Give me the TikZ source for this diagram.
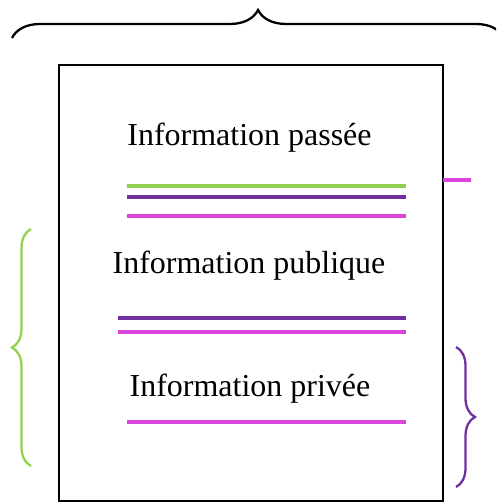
\documentclass[tikz,border=0pt]{standalone}
\usepackage{fontspec}
\setmainfont{Liberation Serif}
\usetikzlibrary{decorations.pathreplacing}
\definecolor{vert}{RGB}{146,208,80}
\definecolor{violet}{RGB}{112,48,160}
\definecolor{rose}{RGB}{218,68,218}
\tikzset{
  trait/.style={line width=2pt},
  accolade/.style={decorate,decoration={brace,amplitude=#1},line width=1.3pt},
  texte/.style={anchor=base,inner sep=0pt,font=\fontsize{18.2}{22}\selectfont}
}
\begin{document}
\begin{tikzpicture}[x=0.02cm,y=0.02cm]
				\useasboundingbox (0,0) rectangle (496,502);
				\clip (0,0) rectangle (496,502);

				% Accolade du haut
				\draw[accolade=0.56cm] (12,464) -- (504,464);

				% Cadre
				\draw[line width=1.3pt] (59,0.5) rectangle (443,437);

				% Information passee
				\node[texte] (passee) at (249.5,356) {Information passée};
				\draw[trait,vert] (127,316) -- (406,316);
				\draw[trait,violet] (127,305) -- (406,305);
				\draw[trait,rose] (127,286) -- (406,286);
				\draw[trait,rose] (443,322) -- (471,322);

				% Information publique
				\node[texte] (publique) at (249,228) {Information publique};
				\draw[trait,violet] (118,184) -- (406,184);
				\draw[trait,rose] (118,170) -- (406,170);

				% Information privee
				\node[texte] (privee) at (250,105) {Information privée};
				\draw[trait,rose] (127,80) -- (406,80);

				% Accolades laterales
				\draw[accolade=0.38cm,vert] (31,36) -- (31,273);
				\draw[accolade=0.38cm,violet] (456,155) -- (456,15);
\end{tikzpicture}
\end{document}
